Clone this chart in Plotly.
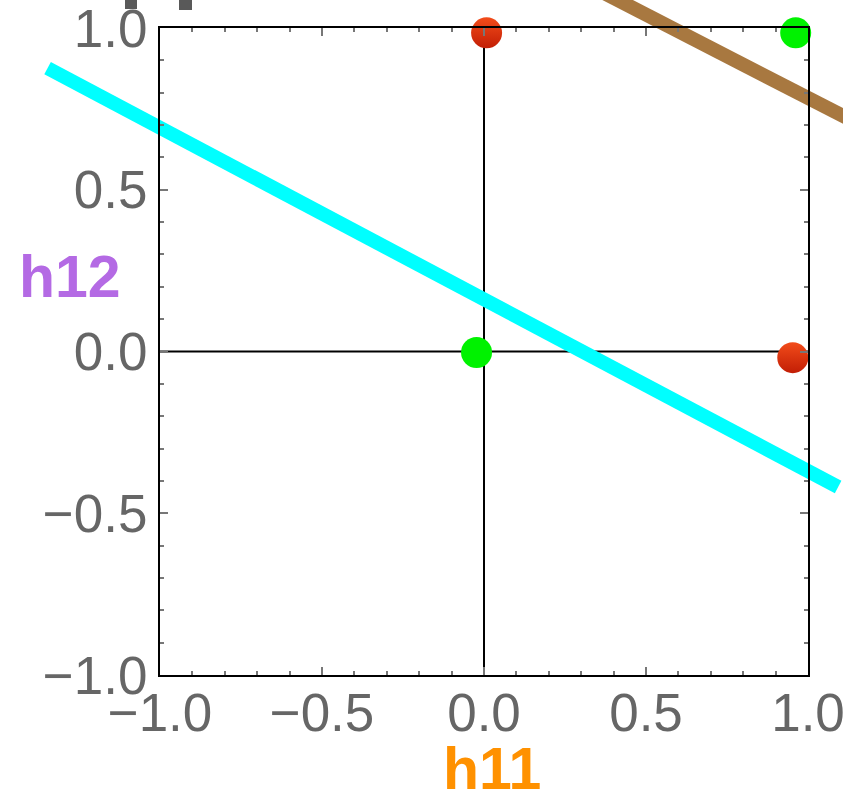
import plotly.graph_objects as go

# ---- data ----
tick_vals = [-1.0, -0.5, 0.0, 0.5, 1.0]
tick_text = ["\u22121.0", "\u22120.5", "0.0", "0.5", "1.0"]

cyan_x = [-1.347, 1.093]
cyan_y = [0.876, -0.419]

brown_x = [0.20, 1.25]
brown_y = [1.196, 0.655]

red_x = [0.008, 0.953]
red_y = [0.985, -0.019]

green_x = [-0.023, 0.962]
green_y = [-0.003, 0.985]

x_label = "h11"
y_label = "h12"

# ---- layout geometry ----
W, H = 843, 795
fx = [160 / W, 808 / W]
fy = [1 - 675 / H, 1 - 28 / H]
xr = [-1, 1]
yr = [-1, 1]
sx = (xr[1] - xr[0]) / (fx[1] - fx[0])
sy = (yr[1] - yr[0]) / (fy[1] - fy[0])
full_xr = [xr[0] - fx[0] * sx, xr[1] + (1 - fx[1]) * sx]
full_yr = [yr[0] - fy[0] * sy, yr[1] + (1 - fy[1]) * sy]

fig = go.Figure()

# lines on full-figure subplot (not clipped by the frame)
fig.add_trace(go.Scatter(x=cyan_x, y=cyan_y, mode="lines",
                         line=dict(color="#00FFFF", width=14),
                         xaxis="x", yaxis="y", showlegend=False, hoverinfo="skip"))
fig.add_trace(go.Scatter(x=brown_x, y=brown_y, mode="lines",
                         line=dict(color="#A87840", width=14),
                         xaxis="x", yaxis="y", showlegend=False, hoverinfo="skip"))

# points on the framed subplot
fig.add_trace(go.Scatter(x=red_x, y=red_y, mode="markers",
                         marker=dict(size=31, color="#F24C1A",
                                     gradient=dict(type="vertical", color="#C21E05"),
                                     line=dict(width=0)),
                         cliponaxis=False, xaxis="x2", yaxis="y2", showlegend=False))
fig.add_trace(go.Scatter(x=green_x, y=green_y, mode="markers",
                         marker=dict(size=31, color="#00F200", line=dict(width=0)),
                         cliponaxis=False, xaxis="x2", yaxis="y2", showlegend=False))

tickfont = dict(family="Liberation Sans, Arial, sans-serif", size=53, color="#666666")

common = dict(
    showline=True, linecolor="black", linewidth=2, mirror="allticks",
    ticks="inside", ticklen=8, tickwidth=1.5, tickcolor="#777777",
    tickmode="array", tickvals=tick_vals, ticktext=tick_text,
    tickfont=tickfont, showgrid=False, zeroline=False,
    automargin=False, ticklabeloverflow="allow",
    minor=dict(ticks="inside", ticklen=4, tickwidth=1.5, tickcolor="#777777",
               tickmode="linear", tick0=-1, dtick=0.1, showgrid=False),
)

fig.update_layout(
    width=W, height=H,
    margin=dict(l=0, r=0, t=0, b=0, pad=0, autoexpand=False),
    paper_bgcolor="white", plot_bgcolor="rgba(0,0,0,0)",
    xaxis=dict(domain=[0, 1], range=full_xr, visible=False, anchor="y", automargin=False),
    yaxis=dict(domain=[0, 1], range=full_yr, visible=False, anchor="x", automargin=False),
    xaxis2=dict(domain=fx, range=xr, anchor="y2", ticklabelstandoff=-10, **common),
    yaxis2=dict(domain=fy, range=yr, anchor="x2", ticklabelstandoff=0, **common),
    shapes=[
        # coordinate axes through the origin, drawn beneath the lines
        dict(type="line", xref="x", yref="y", x0=0, x1=0, y0=yr[0], y1=yr[1],
             line=dict(color="black", width=2), layer="below"),
        dict(type="line", xref="x", yref="y", x0=xr[0], x1=xr[1], y0=0, y1=0,
             line=dict(color="black", width=2), layer="below"),
        # clipped fragments of text above the frame
        dict(type="rect", xref="paper", yref="paper",
             x0=125 / W, x1=137 / W, y0=1 - 9 / H, y1=1.0,
             line=dict(width=0), fillcolor="#595959"),
        dict(type="rect", xref="paper", yref="paper",
             x0=179 / W, x1=192 / W, y0=1 - 10 / H, y1=1.0,
             line=dict(width=0), fillcolor="#595959"),
    ],
    annotations=[
        dict(text=f"<b>{x_label}</b>", xref="paper", yref="paper",
             x=492 / W, y=1 - 769 / H, showarrow=False,
             xanchor="center", yanchor="middle",
             font=dict(family="Liberation Sans, Arial, sans-serif", size=59, color="#FF9100")),
        dict(text=f"<b>{y_label}</b>", xref="paper", yref="paper",
             x=70 / W, y=1 - 277 / H, showarrow=False,
             xanchor="center", yanchor="middle",
             font=dict(family="Liberation Sans, Arial, sans-serif", size=59, color="#B46AE4")),
    ],
)

fig.write_html("out.html",
               config={"displayModeBar": False},
               post_script="document.body.style.margin='0';document.body.style.padding='0';"
                           "document.body.style.overflow='hidden';")
